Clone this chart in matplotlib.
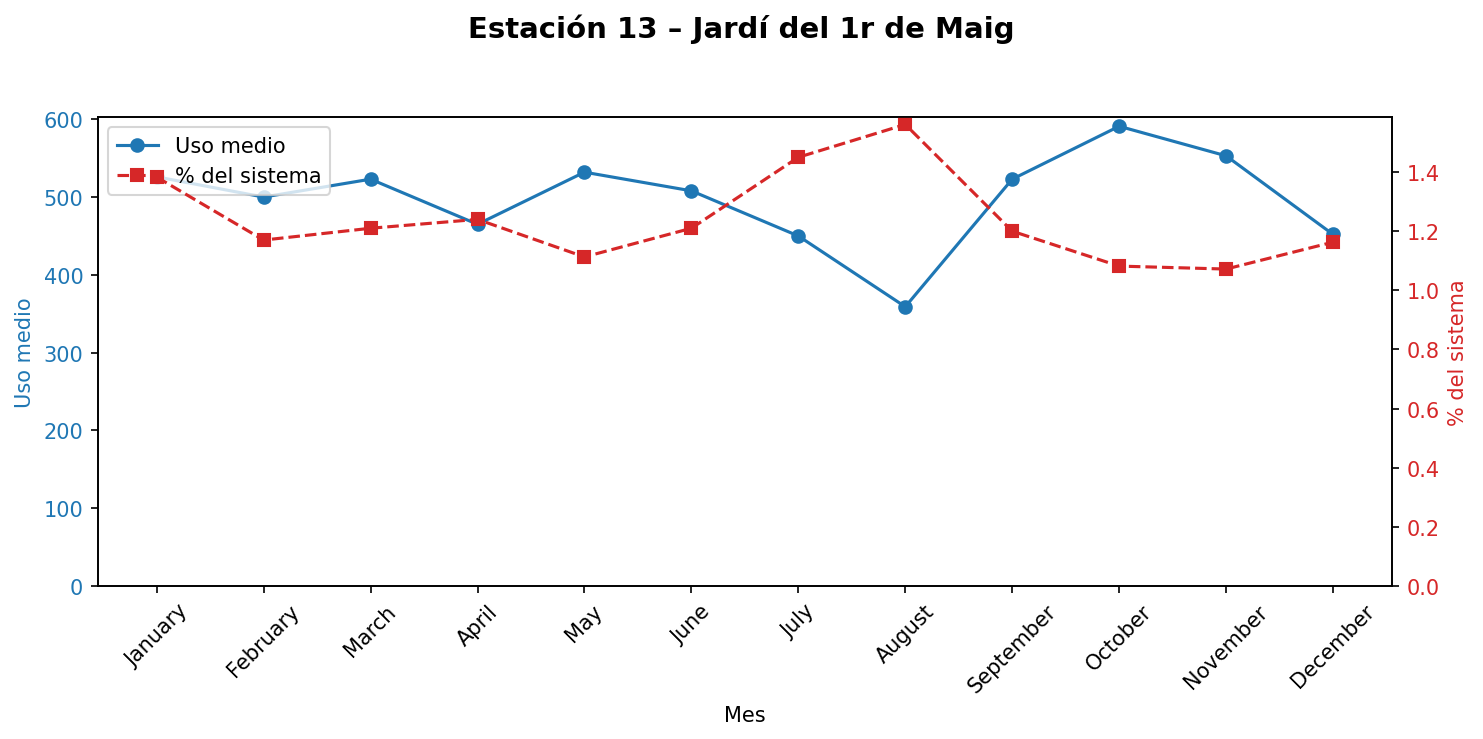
import matplotlib
matplotlib.use("Agg")
import matplotlib.pyplot as plt

meses = ["January", "February", "March", "April", "May", "June",
         "July", "August", "September", "October", "November", "December"]
uso_medio = [526, 500, 523, 465, 532, 508, 450, 359, 523, 591, 553, 452]
pct_sistema = [1.383, 1.17, 1.21, 1.24, 1.113, 1.21, 1.45, 1.561, 1.20, 1.082, 1.072, 1.163]

color_uso = "tab:blue"
color_pct = "tab:red"

fig, ax1 = plt.subplots(figsize=(9.887, 4.933), dpi=150)

l1, = ax1.plot(meses, uso_medio, marker="o", color=color_uso, label="Uso medio")
ax1.set_ylabel("Uso medio", color=color_uso)
ax1.tick_params(axis="y", labelcolor=color_uso)
ax1.set_ylim(0, max(uso_medio) * 1.02)
ax1.set_xlabel("Mes")
ax1.tick_params(axis="x", rotation=45)

ax2 = ax1.twinx()
l2, = ax2.plot(meses, pct_sistema, marker="s", linestyle="--", color=color_pct, label="% del sistema")
ax2.set_ylabel("% del sistema", color=color_pct)
ax2.tick_params(axis="y", labelcolor=color_pct)
ax2.set_ylim(0, max(pct_sistema) * 1.016)

ax1.legend([l1, l2], [l1.get_label(), l2.get_label()], loc="upper left")

fig.suptitle("Estación 13 – Jardí del 1r de Maig", fontsize=14, fontweight="bold")
fig.subplots_adjust(left=0.066, right=0.9385, top=0.8405, bottom=0.2067)
fig.savefig("out.png")
